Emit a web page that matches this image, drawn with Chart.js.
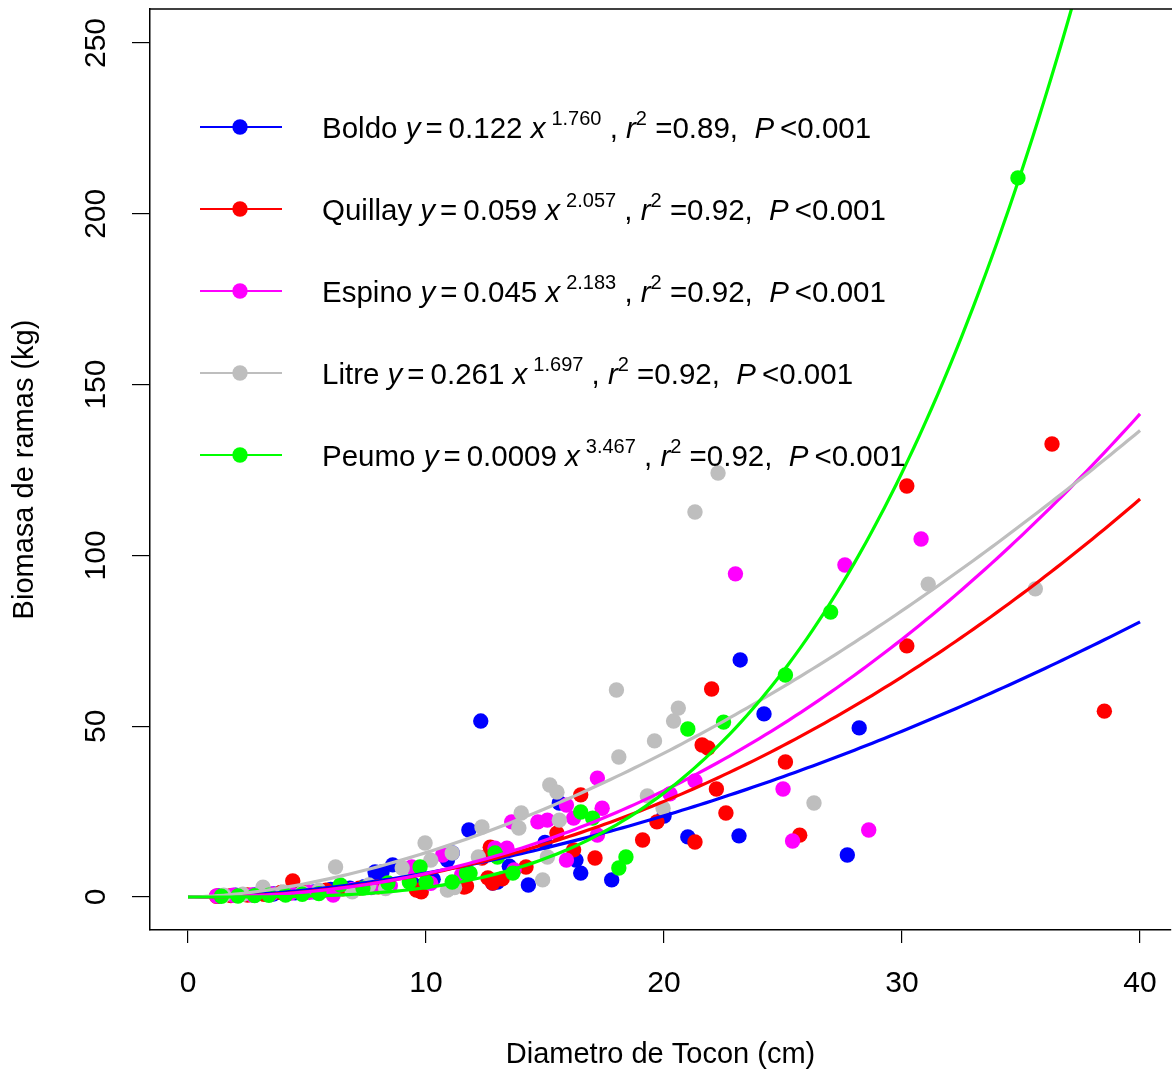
<!DOCTYPE html>
<html>
<head>
<meta charset="utf-8">
<script src="https://cdn.jsdelivr.net/npm/chart.js@4.4.1/dist/chart.umd.min.js"></script>
<style>
  html, body { margin: 0; padding: 0; background: #fff; }
  #wrap { width: 1172px; height: 1074px; }
</style>
</head>
<body>
<div id="wrap"><canvas id="chart" width="1172" height="1074"></canvas></div>
<script>
// species, colours and fitted power curves y = a * x^b
const species = ['Boldo', 'Quillay', 'Espino', 'Litre', 'Peumo'];
const colors = ['#0000ff', '#ff0000', '#ff00ff', '#bebebe', '#00ff00'];
const fitA = [0.122, 0.059, 0.045, 0.261, 0.00094];
const fitB = [1.760, 2.057, 2.183, 1.697, 3.467];
const aLabels = ['0.122', '0.059', '0.045', '0.261', '0.0009'];
const bLabels = ['1.760', '2.057', '2.183', '1.697', '3.467'];
const r2Labels = ['0.89', '0.92', '0.92', '0.92', '0.92'];

const xTicks = [0, 10, 20, 30, 40];
const yTicks = [0, 50, 100, 150, 200, 250];

// observed points [diameter, biomass]
const boldoPts = [[1.3,0.3],[2.0,0.5],[2.8,0.6],[3.6,0.9],[4.5,1.2],[5.3,1.5],[6.0,2.2],[6.8,2.6],[7.4,3.0],
  [7.86,7.3],[8.15,7.3],[7.9,5.9],[8.2,4.5],[8.6,9.4],[9.5,3.5],[10.3,5.2],[10.9,10.8],[11.1,12.9],[11.8,19.6],
  [12.3,51.5],[12.8,4.1],[13.0,4.4],[13.5,9.0],[14.3,3.5],[15.0,16.0],[15.6,27.5],[16.3,10.8],[16.5,7.0],
  [17.8,5.0],[20.0,23.7],[21.0,17.6],[23.15,17.9],[23.2,69.4],[24.2,53.6],[27.7,12.3],[28.2,49.5]];
const quillayPts = [[1.2,0.2],[1.8,0.4],[2.5,0.6],[3.2,0.8],[3.9,1.3],[4.4,4.7],[5.0,1.5],[5.8,2.0],[6.5,2.4],
  [7.2,2.6],[8.0,3.0],[9.6,2.0],[9.8,1.5],[11.6,2.9],[11.7,3.2],[12.35,11.4],[12.6,5.6],[12.7,14.6],[12.8,4.1],
  [13.2,5.3],[14.2,8.8],[15.5,18.7],[16.2,13.8],[16.5,29.9],[17.1,11.4],[19.1,16.7],[19.7,22.0],[21.3,16.1],
  [21.6,44.5],[21.85,43.6],[22.0,60.9],[22.2,31.6],[22.6,24.6],[25.1,39.5],[25.7,18.1],[30.2,73.5],[30.2,120.3],
  [36.3,132.6],[38.5,54.4]];
const espinoPts = [[1.2,0.3],[1.9,0.5],[2.7,0.6],[3.5,0.9],[4.3,1.1],[5.1,1.4],[6.1,0.6],[6.9,2.2],[7.7,2.8],
  [8.5,3.3],[9.4,8.8],[10.2,4.0],[10.7,12.3],[11.5,6.5],[12.9,14.3],[13.4,14.3],[13.6,22.0],[13.7,7.9],
  [14.7,22.0],[15.1,22.5],[15.9,26.9],[15.9,10.8],[16.2,23.1],[17.2,34.8],[17.2,18.1],[17.4,26.0],[20.25,30.2],
  [21.3,34.0],[23.0,94.6],[25.0,31.6],[25.4,16.4],[27.6,97.2],[28.6,19.6],[30.8,104.8]];
const litrePts = [[1.5,0.5],[2.3,0.8],[3.15,2.9],[4.0,1.5],[4.8,1.2],[5.5,2.0],[6.2,8.8],[6.9,1.5],[7.6,3.5],
  [8.3,2.5],[9.0,8.5],[9.96,15.8],[10.2,10.8],[10.9,2.0],[11.1,12.9],[11.2,2.8],[12.2,11.7],[12.35,20.5],
  [13.9,20.2],[14.0,24.6],[14.9,5.0],[15.1,11.7],[15.2,32.8],[15.5,30.7],[15.6,22.5],[18.0,60.6],[18.1,41.0],
  [19.3,29.6],[19.6,45.7],[19.96,26.0],[20.4,51.5],[20.6,55.3],[21.3,112.7],[22.27,124.1],[26.3,27.5],
  [31.1,91.6],[35.6,90.2]];
const peumoPts = [[1.4,0.2],[2.1,0.3],[2.8,0.4],[3.4,0.5],[4.1,0.6],[4.8,0.8],[5.5,1.0],[6.4,3.5],[7.35,2.6],
  [8.4,4.1],[9.3,4.4],[9.75,8.8],[10.0,4.4],[11.1,4.4],[11.7,7.0],[11.85,7.0],[12.9,12.9],[13.0,11.7],
  [13.65,7.0],[16.5,24.9],[17.0,23.1],[18.1,8.5],[18.4,11.7],[21.0,49.2],[22.5,51.2],[25.1,65.0],[27.0,83.4],
  [34.87,210.5]];
const allPts = [boldoPts, quillayPts, espinoPts, litrePts, peumoPts];

const FONT = "'Liberation Sans', Arial, sans-serif";

(function(){
  const datasets = [];
  // fitted curves (on top of points)
  species.forEach((name, i) => {
    const pts = [];
    for (let k = 0; k <= 160; k++) {
      const x = k * 0.25;
      pts.push({ x: x, y: fitA[i] * Math.pow(x, fitB[i]) });
    }
    datasets.push({
      label: name + ' fit', data: pts, showLine: true, borderColor: colors[i],
      borderWidth: 3.2, pointRadius: 0, fill: false, order: 5 - i
    });
  });
  species.forEach((name, i) => {
    datasets.push({
      label: name, data: allPts[i].map(p => ({ x: p[0], y: p[1] })),
      showLine: false, pointRadius: 7.7, pointHoverRadius: 7.7,
      backgroundColor: colors[i], borderWidth: 0, order: 20 - i
    });
  });

  const boxAndLabels = {
    id: 'boxAndLabels',
    afterDraw(chart) {
      const ctx = chart.ctx;
      const a = chart.chartArea;
      const ys = chart.scales.y;
      ctx.save();
      // top border of the box
      ctx.strokeStyle = '#000';
      ctx.lineWidth = 1.5;
      ctx.beginPath();
      ctx.moveTo(a.left, a.top);
      ctx.lineTo(chart.width, a.top);
      ctx.stroke();
      // rotated y tick labels
      ctx.fillStyle = '#000';
      ctx.font = '30px ' + FONT;
      ctx.textAlign = 'center';
      ctx.textBaseline = 'middle';
      yTicks.forEach(v => {
        ctx.save();
        ctx.translate(97, ys.getPixelForValue(v));
        ctx.rotate(-Math.PI / 2);
        ctx.fillText(String(v), 0, 0);
        ctx.restore();
      });
      // legend with equations
      ctx.textAlign = 'left';
      ctx.textBaseline = 'alphabetic';
      species.forEach((name, i) => {
        const cy = 127 + 82 * i;
        ctx.strokeStyle = colors[i];
        ctx.lineWidth = 2;
        ctx.beginPath();
        ctx.moveTo(200, cy);
        ctx.lineTo(282, cy);
        ctx.stroke();
        ctx.fillStyle = colors[i];
        ctx.beginPath();
        ctx.arc(240, cy, 7.7, 0, Math.PI * 2);
        ctx.fill();

        const base = cy + 10.5;
        // [text, style, gap before]
        const parts = [
          [name + ' ', 'n', 0], ['y', 'i', 0], ['=', 'n', 5], [aLabels[i] + ' ', 'n', 6], ['x', 'i', 0],
          [bLabels[i], 's', 6], [' , ', 'n', 0], ['r', 'i', 0], ['2', 's', 0], [' =' + r2Labels[i] + ',  ', 'n', 0],
          ['P', 'i', 0], ['<0.001', 'n', 6]
        ];
        let x = 322;
        ctx.fillStyle = '#000';
        parts.forEach(p => {
          let dy = 0;
          if (p[1] === 'n') ctx.font = '29.5px ' + FONT;
          else if (p[1] === 'i') ctx.font = 'italic 29.5px ' + FONT;
          else { ctx.font = '20px ' + FONT; dy = -13; }
          x += p[2];
          ctx.fillText(p[0], x, base + dy);
          x += ctx.measureText(p[0]).width;
        });
      });
      ctx.restore();
    }
  };

  new Chart(document.getElementById('chart').getContext('2d'), {
    type: 'scatter',
    data: { datasets: datasets },
    options: {
      responsive: false,
      animation: false,
      layout: { autoPadding: false, padding: { top: 9, right: 1, left: 0, bottom: 0 } },
      plugins: { legend: { display: false }, tooltip: { enabled: false } },
      scales: {
        x: {
          type: 'linear', min: -1.597, max: 41.30,
          afterBuildTicks: s => { s.ticks = xTicks.map(v => ({ value: v })); },
          afterFit: s => { s.height = 144; s.paddingLeft = 0; s.paddingRight = 0; },
          grid: { drawOnChartArea: false, drawTicks: true, tickLength: 13, color: '#000', lineWidth: 1.2 },
          border: { display: true, color: '#000', width: 1.5 },
          ticks: { color: '#000', font: { family: FONT, size: 30 }, padding: 23, maxRotation: 0 },
          title: { display: true, text: 'Diametro de Tocon (cm)', color: '#000',
                   font: { family: FONT, size: 29 }, padding: { top: 0, bottom: 2 } }
        },
        y: {
          type: 'linear', min: -9.66, max: 259.95,
          afterBuildTicks: s => { s.ticks = yTicks.map(v => ({ value: v })); },
          afterFit: s => { s.width = 150; s.paddingTop = 0; s.paddingBottom = 0; },
          grid: { drawOnChartArea: false, drawTicks: true, tickLength: 18, color: '#000', lineWidth: 1.2 },
          border: { display: true, color: '#000', width: 1.5 },
          ticks: { display: false },
          title: { display: true, text: 'Biomasa de ramas (kg)', color: '#000',
                   font: { family: FONT, size: 29 }, padding: { top: 8, bottom: 0 } }
        }
      }
    },
    plugins: [boxAndLabels]
  });
})();
</script>
</body>
</html>
